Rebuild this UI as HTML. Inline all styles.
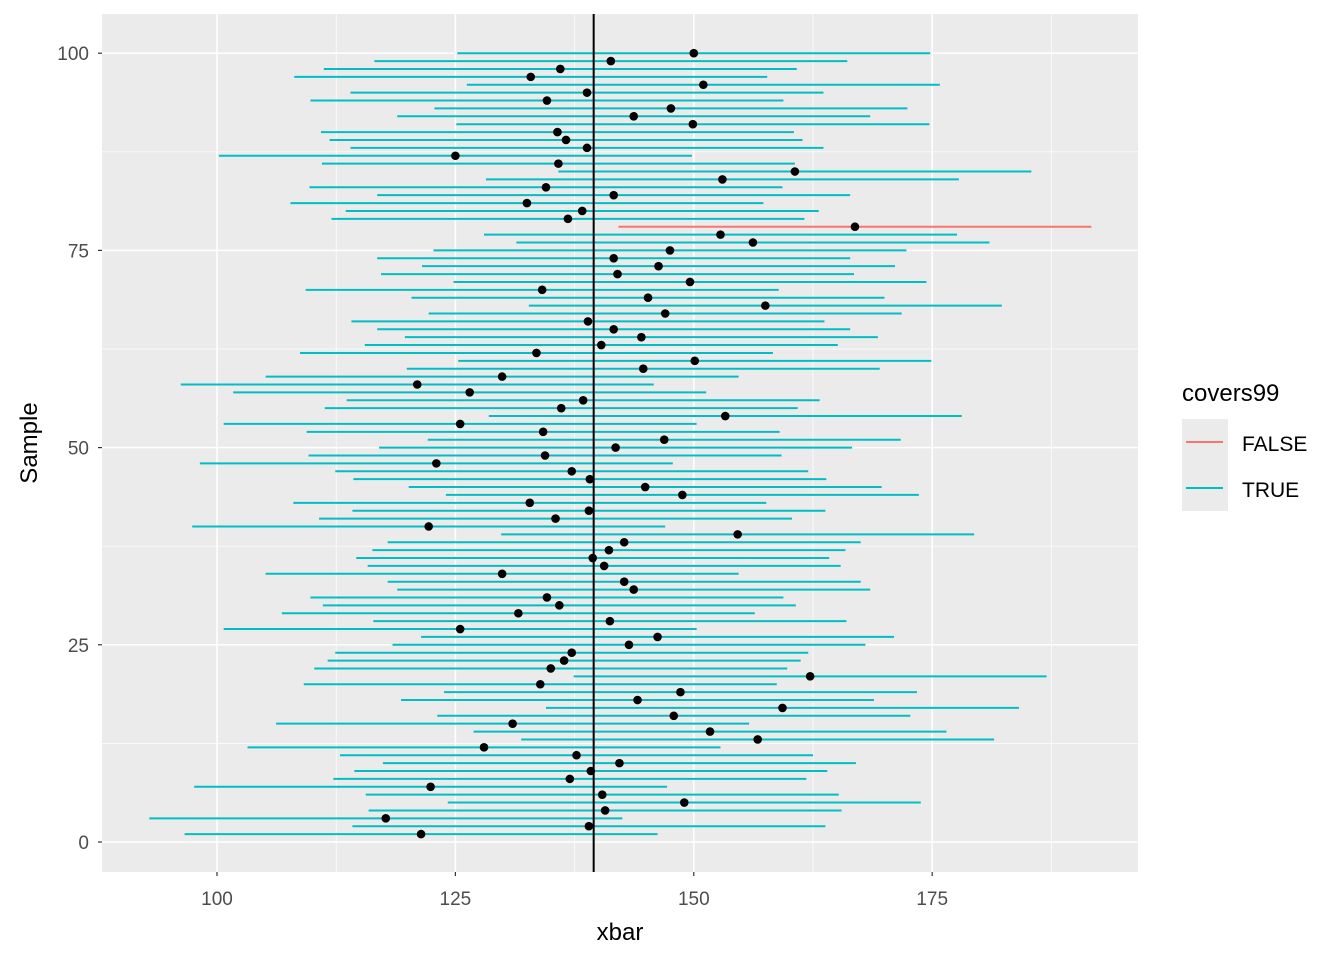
<!DOCTYPE html>
<html><head><meta charset="utf-8"><style>
body{margin:0;background:#fff;}
svg text{font-family:"Liberation Sans",sans-serif;}
</style></head><body>
<svg id="chart" width="1344" height="960" xmlns="http://www.w3.org/2000/svg">
<rect x="0" y="0" width="1344" height="960" fill="#fff"/>
<rect x="102" y="14" width="1036" height="858" fill="#ebebeb"/>
<g id="grid"></g>
<g id="segs"></g>
<g id="dots"></g>
<g id="axes"></g>
<text x="620" y="940" font-size="24" text-anchor="middle" fill="#000">xbar</text>
<text x="37" y="443" font-size="24" text-anchor="middle" fill="#000" transform="rotate(-90 37 443)">Sample</text>
<g>
<text x="1182" y="401" font-size="24" fill="#000">covers99</text>
<rect x="1182" y="419" width="46" height="92" fill="#ebebeb"/>
<line x1="1186" y1="442" x2="1223" y2="442" stroke="#F8766D" stroke-width="2"/>
<line x1="1186" y1="488" x2="1223" y2="488" stroke="#00BFC4" stroke-width="2"/>
<text x="1242" y="451" font-size="21" fill="#000">FALSE</text>
<text x="1242" y="497" font-size="21" fill="#000">TRUE</text>
</g>
</svg>
<script>
const xbar = [121.4,139.0,117.7,140.7,149.0,140.4,122.4,137.0,139.2,142.2,
137.7,128.0,156.7,151.7,131.0,147.9,159.3,144.1,148.6,133.9,
162.2,135.0,136.4,137.2,143.2,146.2,125.5,141.2,131.6,135.9,
134.6,143.7,142.7,129.9,140.6,139.4,141.1,142.7,154.6,122.2,
135.5,139.0,132.8,148.8,144.9,139.1,137.2,123.0,134.4,141.8,
146.9,134.2,125.5,153.3,136.1,138.4,126.5,121.0,129.9,144.7,
150.1,133.5,140.3,144.5,141.6,138.9,147.0,157.5,145.2,134.1,
149.6,142.0,146.3,141.6,147.5,156.2,152.8,166.9,136.8,138.3,
132.5,141.6,134.5,153.0,160.6,135.8,125.0,138.8,136.6,135.7,
149.9,143.7,147.6,134.6,138.8,151.0,132.9,136.0,141.3,150.0];
const halfWidth = [24.8];
const mu = [139.5];
const xTicks = [100,125,150,175];
const yTicks = [0,25,50,75,100];

const NS='http://www.w3.org/2000/svg';
const X=v=>217+(v-100)*9.536;
const Y=v=>842-(v)*7.888;
const L=102,R=1138,T=14,B=872;
function mk(tag,attrs,parent){const e=document.createElementNS(NS,tag);for(const k in attrs)e.setAttribute(k,attrs[k]);parent.appendChild(e);return e;}
const grid=document.getElementById('grid'),segs=document.getElementById('segs'),dots=document.getElementById('dots'),axes=document.getElementById('axes');
// minor grid
for(let i=0;i<xTicks.length+1;i++){const v=xTicks[0]-12.5+25*i;const px=X(v);if(px>L&&px<R){const g=mk('line',{x1:px,x2:px,y1:T,y2:B,stroke:'#fff','stroke-width':0.7},grid);

}}
for(let i=0;i<yTicks.length+1;i++){const v=yTicks[0]-12.5+25*i;const py=Y(v);if(py>T&&py<B){const g=mk('line',{x1:L,x2:R,y1:py,y2:py,stroke:'#fff','stroke-width':0.7},grid);

}}
xTicks.forEach(v=>{const g=mk('line',{x1:X(v),x2:X(v),y1:T,y2:B,stroke:'#fff','stroke-width':1.5},grid);


const t=mk('line',{x1:X(v),x2:X(v),y1:B,y2:B+4,stroke:'#333','stroke-width':1.2},axes);


const l=mk('text',{x:X(v),y:905,'font-size':19,'text-anchor':'middle',fill:'#4d4d4d'},axes);l.textContent=v;

});
yTicks.forEach(v=>{const g=mk('line',{x1:L,x2:R,y1:Y(v),y2:Y(v),stroke:'#fff','stroke-width':1.5},grid);


const t=mk('line',{x1:L-4,x2:L,y1:Y(v),y2:Y(v),stroke:'#333','stroke-width':1.2},axes);


const l=mk('text',{x:89,y:Y(v)+7,'font-size':19,'text-anchor':'end',fill:'#4d4d4d'},axes);l.textContent=v;

});
xbar.forEach((v,i)=>{const s=i+1;const lo=v-halfWidth[0],hi=v+halfWidth[0];const cov=lo<=mu[0]&&hi>=mu[0];
const ln=mk('line',{x1:X(lo),x2:X(Math.min(hi,196.5)),y1:Y(s),y2:Y(s),stroke:cov?'#00BFC4':'#F8766D','stroke-width':2},segs);


const c=mk('circle',{cx:X(v),cy:Y(s),r:4.3,fill:'#000'},dots);

});
const vl=mk('line',{x1:X(mu[0]),x2:X(mu[0]),y1:T,y2:B,stroke:'#000','stroke-width':2},dots);


</script>
</body></html>
